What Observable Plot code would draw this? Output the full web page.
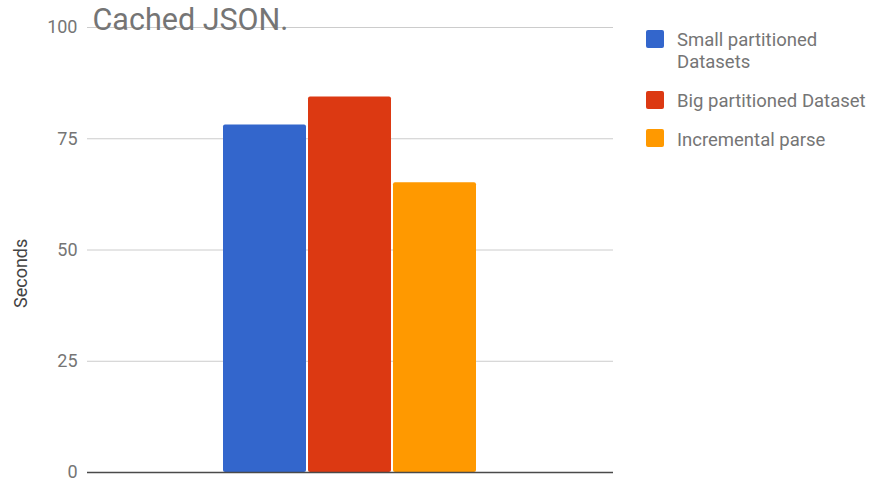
<!DOCTYPE html>
<html>
<head>
<meta charset="utf-8">
<script src="https://cdn.jsdelivr.net/npm/d3@7"></script>
<script src="https://cdn.jsdelivr.net/npm/@observablehq/plot@0.6"></script>
<style>
  html, body { margin: 0; padding: 0; background: #fff; }
  #chart { position: relative; width: 873px; height: 485px; font-family: Roboto, sans-serif; }
  #legend { position: absolute; left: 646px; top: 29px; width: 225px; }
  .item { display: flex; align-items: flex-start; margin-bottom: 16.5px; }
  .swatch { width: 18px; height: 18px; border-radius: 2px; flex: none; margin-top: 0.5px; }
  .label { margin-left: 13px; font-size: 18.5px; line-height: 22.3px; color: #757575; max-width: 195px; }
</style>
</head>
<body>
<div id="chart"></div>
<script>
// Benchmark timings for the cached JSON workload
const series = ["Small partitioned Datasets", "Big partitioned Dataset", "Incremental parse"];
const seconds = [78.1, 84.4, 65.1];
const colors = ["#3366cc", "#dc3912", "#ff9900"];
const yTicks = [0, 25, 50, 75, 100];
const title = "Cached JSON.";
const yLabel = "Seconds";

const data = series.map((s, i) => ({series: s, seconds: seconds[i]}));

const chart = Plot.plot({
  width: 873,
  height: 485,
  marginTop: 27,
  marginBottom: 13,
  marginLeft: 87,
  marginRight: 260,
  style: {fontFamily: "Roboto, sans-serif", fontSize: "18px", color: "#757575", background: "white"},
  x: {type: "band", domain: series, range: [222, 478], padding: 0.02, paddingOuter: 0, axis: null},
  y: {domain: [0, 100], ticks: yTicks, tickSize: 0, tickPadding: 10, label: null},
  color: {domain: series, range: colors},
  marks: [
    Plot.ruleY(yTicks.filter(d => d > 0), {stroke: "#cccccc", strokeWidth: 1}),
    Plot.barY(data, {x: "series", y: "seconds", fill: "series", rx: 2}),
    Plot.ruleY([0], {stroke: "#4a4a4a", strokeWidth: 1.4}),
    Plot.text([title], {frameAnchor: "top-left", lineAnchor: "bottom", textAnchor: "start", dx: 5, dy: 2.5, fontSize: 30.5, fill: "#757575"}),
    Plot.text([yLabel], {frameAnchor: "left", rotate: -90, dx: -66, dy: 58, fontSize: 18, fill: "#444444"})
  ]
});

const root = document.getElementById("chart");
root.appendChild(chart);

// Legend to the right of the plot
const legend = d3.select(root).append("div").attr("id", "legend");
const items = legend.selectAll(".item").data(series).join("div").attr("class", "item");
items.append("div").attr("class", "swatch").style("background", (d, i) => colors[i]);
items.append("div").attr("class", "label").text(d => d);
</script>
</body>
</html>
